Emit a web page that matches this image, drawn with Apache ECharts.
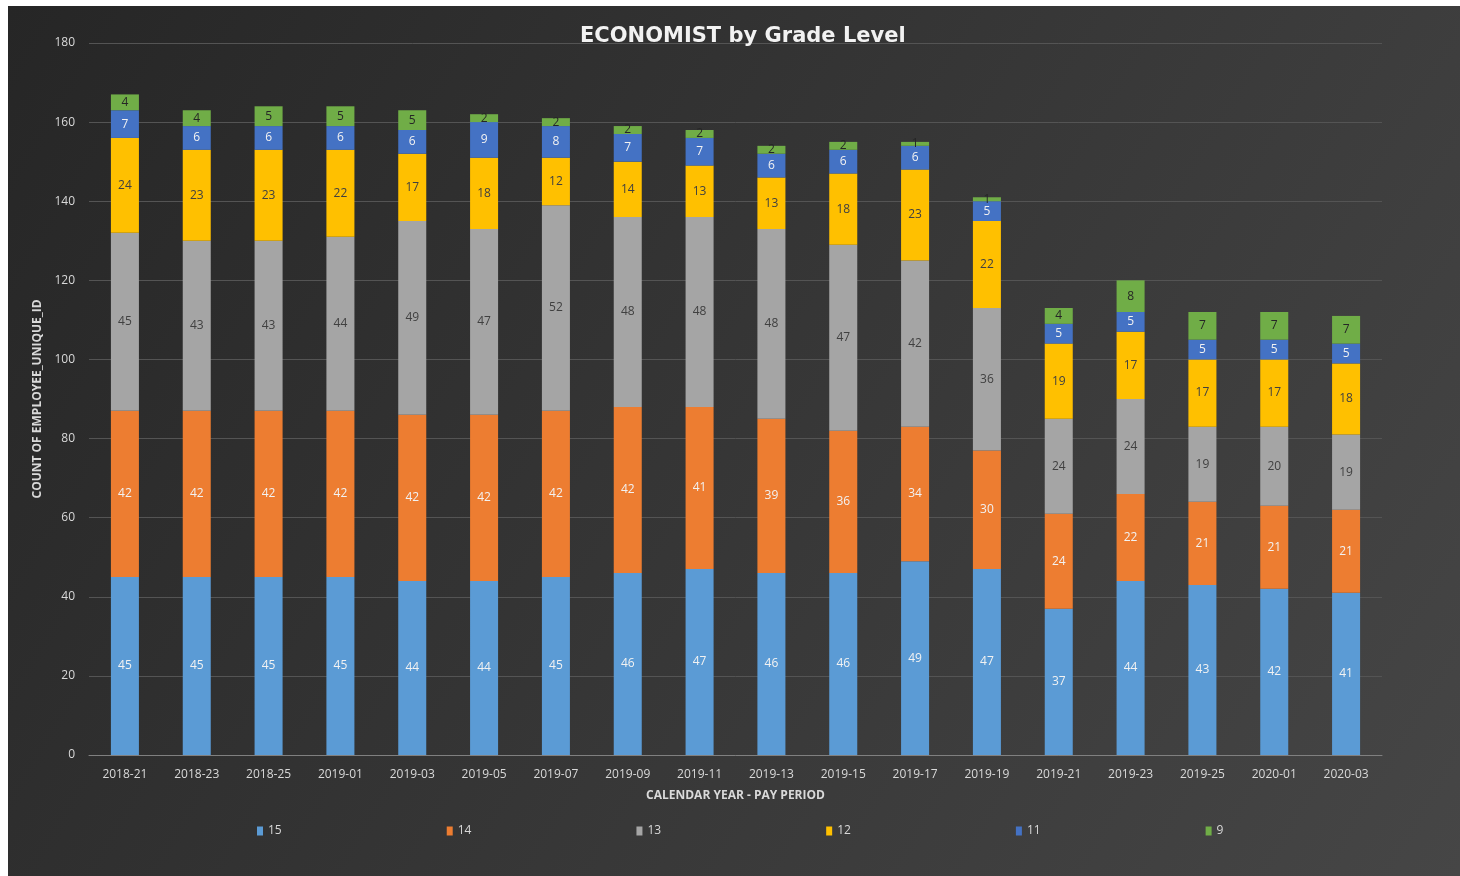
<!DOCTYPE html>
<html><head><meta charset="utf-8">
<script src="https://cdn.jsdelivr.net/npm/echarts@6/dist/echarts.min.js"></script>
<style>
html,body{margin:0;padding:0;background:#fff;width:1460px;height:876px;overflow:hidden}
#c{position:absolute;left:8px;top:6px;width:1452px;height:870px}
</style></head><body><div id="c"></div>
<script>
const categories=['2018-21','2018-23','2018-25','2019-01','2019-03','2019-05','2019-07','2019-09','2019-11','2019-13','2019-15','2019-17','2019-19','2019-21','2019-23','2019-25','2020-01','2020-03'];
const g15=[45,45,45,45,44,44,45,46,47,46,46,49,47,37,44,43,42,41];
const g14=[42,42,42,42,42,42,42,42,41,39,36,34,30,24,22,21,21,21];
const g13=[45,43,43,44,49,47,52,48,48,48,47,42,36,24,24,19,20,19];
const g12=[24,23,23,22,17,18,12,14,13,13,18,23,22,19,17,17,17,18];
const g11=[7,6,6,6,6,9,8,7,7,6,6,6,5,5,5,5,5,5];
const g9=[4,4,5,5,5,2,2,2,2,2,2,1,1,4,8,7,7,7];
const seriesDefs=[
 {name:'15',data:g15,color:'#5b9bd5',label:'#f2f2f2'},
 {name:'14',data:g14,color:'#ed7d31',label:'#f2f2f2'},
 {name:'13',data:g13,color:'#a5a5a5',label:'#404040'},
 {name:'12',data:g12,color:'#ffc000',label:'#404040'},
 {name:'11',data:g11,color:'#4472c4',label:'#f2f2f2'},
 {name:'9',data:g9,color:'#70ad47',label:'#262626'}
];
const chart=echarts.init(document.getElementById('c'));
const font="'Open Sans', 'Liberation Sans', sans-serif";
chart.setOption({
 backgroundColor:{type:'linear',x:0,y:0,x2:1,y2:1,colorStops:[{offset:0,color:'#262626'},{offset:1,color:'#464646'}]},
 title:{text:'ECONOMIST by Grade Level',left:567,top:15,
  textStyle:{color:'#f2f2f2',fontSize:21,fontWeight:'bold',fontFamily:"'DejaVu Sans', sans-serif"}},
 legend:{bottom:34,left:244,itemWidth:6,itemHeight:9,itemGap:165,icon:'rect',
  textStyle:{color:'#d9d9d9',fontSize:12,fontFamily:font},data:seriesDefs.map(s=>s.name)},
 grid:{left:81,right:78,top:37,bottom:121},
 xAxis:{type:'category',data:categories,name:'CALENDAR YEAR - PAY PERIOD',nameLocation:'middle',nameGap:35,
  nameTextStyle:{color:'#d9d9d9',fontSize:12,fontWeight:'bold',fontFamily:font},
  axisLine:{lineStyle:{color:'#808080'}},axisTick:{show:false},
  axisLabel:{color:'#d9d9d9',fontSize:12,margin:14,fontFamily:font}},
 yAxis:{type:'value',min:0,max:180,interval:20,name:'COUNT OF EMPLOYEE_UNIQUE_ID',nameLocation:'middle',nameGap:42,
  nameTextStyle:{color:'#d9d9d9',fontSize:12,fontWeight:'bold',fontFamily:font},
  axisLabel:{color:'#d9d9d9',fontSize:12,margin:14,fontFamily:font},
  splitLine:{lineStyle:{color:'#545454'}},axisLine:{show:false}},
 series:seriesDefs.map(s=>({name:s.name,type:'bar',stack:'t',data:s.data,barWidth:'39%',
  itemStyle:{color:s.color},
  label:{show:true,position:'inside',color:s.label,fontSize:12,fontFamily:font}}))
});
</script></body></html>
